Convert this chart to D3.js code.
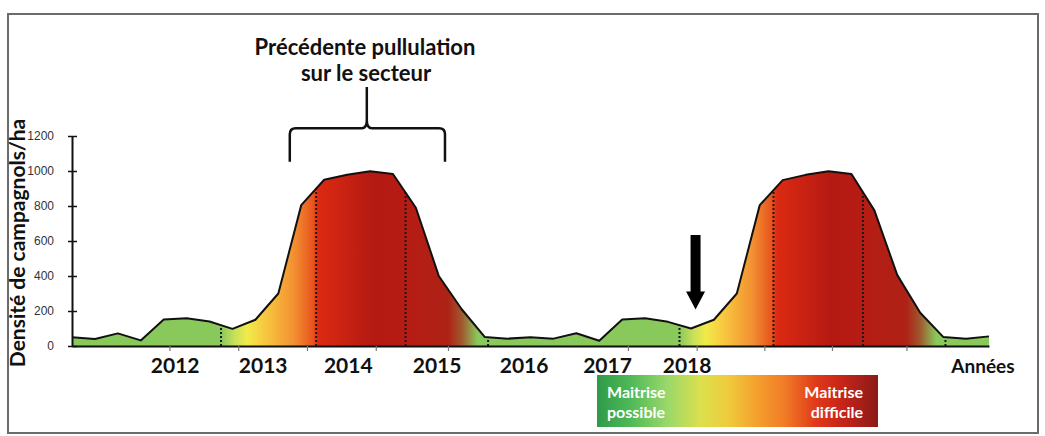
<!DOCTYPE html>
<html>
<head>
<meta charset="utf-8">
<script src="https://cdn.jsdelivr.net/npm/d3@7"></script>
<style>
  body { margin: 0; background: #fff; }
  svg { display: block; }
</style>
</head>
<body>
<svg width="1045" height="436"></svg>
<script>
// density of voles per hectare, one value per step (41 steps)
var densite = [50, 40, 72, 32, 152, 158, 140, 98, 150, 300, 805, 950, 978, 998, 983, 790, 400, 210, 52, 42,
               50, 42, 73, 30, 152, 158, 138, 100, 150, 300, 805, 948, 978, 998, 983, 775, 405, 190, 52, 42, 55];
var yTicks = [0, 200, 400, 600, 800, 1000, 1200];
var xTicks = [4.25, 7.25, 10.25, 13.25, 16.4, 24.25, 27.25, 30.2, 33.15, 36.4];
var annees = ["2012", "2013", "2014", "2015", "2016", "2017", "2018"];
var anneesPos = [4.5, 8.34, 12.05, 15.93, 19.72, 23.36, 26.83];
var seuils = [6.5, 10.65, 14.55, 18.15, 26.5, 30.6, 34.5, 38.1];

var width, height;
var svg, x, y, g;
var vert = "#89c95c";

svg = d3.select("svg");
width = +svg.attr("width");
height = +svg.attr("height");

x = d3.scaleLinear().domain([0, densite.length - 1]).range([72, 989]);
y = d3.scaleLinear().domain([0, 1200]).range([346, 136]);

// frame
svg.append("rect")
    .attr("x", 8).attr("y", 14)
    .attr("width", 1030).attr("height", 419)
    .attr("fill", "none")
    .attr("stroke", "#6b6b6b")
    .attr("stroke-width", 2);

// fill gradient following the pullulation cycles
var zone = [[0, vert], [6.5, vert], [7.1, "#c8e05a"], [7.65, "#f2ea4a"], [8.55, "#f8c23e"], [9.65, "#f29232"],
            [10.5, "#e8561e"], [10.75, "#dc2a12"], [13.1, "#b41a12"], [14.5, "#b61c14"], [16.4, "#ae2216"],
            [17.0, "#a0582e"], [17.7, vert]];
var stops = [];
zone.forEach(function(s) { stops.push(s); });
zone.forEach(function(s) { stops.push([s[0] + 20, s[1]]); });
stops.push([40, vert]);

var defs = svg.append("defs");
var grad = defs.append("linearGradient")
    .attr("id", "fillGrad")
    .attr("gradientUnits", "userSpaceOnUse")
    .attr("x1", x(0)).attr("x2", x(40)).attr("y1", 0).attr("y2", 0);
grad.selectAll("stop").data(stops).enter().append("stop")
    .attr("offset", function(d) { return d[0] / 40; })
    .attr("stop-color", function(d) { return d[1]; });

var legGrad = defs.append("linearGradient").attr("id", "legGrad");
[[0, "#2e9a4a"], [0.12, "#4fb957"], [0.25, "#9ad86a"], [0.37, "#dce04c"], [0.47, "#efca3c"], [0.57, "#f5a02e"],
 [0.67, "#f17a26"], [0.78, "#e0381a"], [0.88, "#c32418"], [1, "#8a1a18"]].forEach(function(s) {
    legGrad.append("stop").attr("offset", s[0]).attr("stop-color", s[1]);
});

g = svg.append("g");

var area = d3.area()
    .x(function(d, i) { return x(i); })
    .y0(y(0))
    .y1(function(d) { return y(d); });
var line = d3.line()
    .x(function(d, i) { return x(i); })
    .y(function(d) { return y(d); });

g.append("path")
    .datum(densite)
    .attr("d", area)
    .attr("fill", "url(#fillGrad)");

// dotted separators
function valueAt(t) {
    var i = Math.floor(t), f = t - i;
    return densite[i] + (densite[Math.min(i + 1, densite.length - 1)] - densite[i]) * f;
}
g.selectAll(".seuil")
    .data(seuils)
    .enter().append("line")
        .attr("class", "seuil")
        .attr("x1", function(d) { return x(d); })
        .attr("x2", function(d) { return x(d); })
        .attr("y1", y(0))
        .attr("y2", function(d) { return y(valueAt(d)); })
        .attr("stroke", "#1a1a1a")
        .attr("stroke-width", 2)
        .attr("stroke-dasharray", "2,2");

g.append("path")
    .datum(densite)
    .attr("d", line)
    .attr("fill", "none")
    .attr("stroke", "#111")
    .attr("stroke-width", 2)
    .attr("stroke-linejoin", "round");

// x axis
var xAxis = g.append("g")
    .attr("transform", "translate(0," + y(0) + ")")
    .call(d3.axisBottom(x).tickValues(xTicks).tickSize(5).tickSizeOuter(0).tickFormat(""));
xAxis.select(".domain").attr("stroke", "#111").attr("stroke-width", 2);
xAxis.selectAll(".tick line").attr("stroke", "#777").attr("stroke-width", 1.2);

g.selectAll(".annee")
    .data(annees)
    .enter().append("text")
        .attr("class", "annee")
        .attr("x", function(d, i) { return x(anneesPos[i]); })
        .attr("y", 373)
        .attr("text-anchor", "middle")
        .style("font", "bold 21px Lato, sans-serif")
        .attr("fill", "#111")
        .text(function(d) { return d; });

g.append("text")
    .attr("x", 983).attr("y", 373)
    .attr("text-anchor", "middle")
    .style("font", "bold 19px Lato, sans-serif")
    .attr("fill", "#111")
    .text("Années");

// y axis
var yAxis = g.append("g")
    .attr("transform", "translate(" + x(0) + ",0)")
    .call(d3.axisLeft(y).tickValues(yTicks).tickSize(0).tickSizeOuter(0).tickPadding(18).tickFormat(d3.format("d")));
yAxis.select(".domain").attr("stroke", "#111").attr("stroke-width", 2);
yAxis.selectAll(".tick text")
    .style("font", "12px 'Liberation Sans', Arial, sans-serif")
    .attr("fill", "#333");
yAxis.selectAll(".tick").append("line")
    .attr("x1", -4).attr("x2", 5)
    .attr("stroke", "#111").attr("stroke-width", 1.5);

svg.append("text")
    .attr("transform", "translate(25,243) rotate(-90)")
    .attr("text-anchor", "middle")
    .style("font", "bold 21px Lato, sans-serif")
    .attr("fill", "#111")
    .text("Densité de campagnols/ha");

// brace over the previous outbreak
var bl = x(9.5), br = x(16.27), bc = x(12.86);
var bBot = y(1053), bMid = y(1244), bTop = y(1480);
svg.append("path")
    .attr("d", "M" + bl + "," + bBot + " L" + bl + "," + (bMid + 6) +
        " Q" + bl + "," + bMid + " " + (bl + 6) + "," + bMid +
        " L" + (bc - 5) + "," + bMid + " Q" + bc + "," + bMid + " " + bc + "," + (bMid - 8) +
        " L" + bc + "," + bTop +
        " M" + bc + "," + (bMid - 8) + " Q" + bc + "," + bMid + " " + (bc + 5) + "," + bMid +
        " L" + (br - 6) + "," + bMid + " Q" + br + "," + bMid + " " + br + "," + (bMid + 6) +
        " L" + br + "," + bBot)
    .attr("fill", "none")
    .attr("stroke", "#111")
    .attr("stroke-width", 2.5);

svg.append("text")
    .attr("x", 365).attr("y", 55)
    .attr("text-anchor", "middle")
    .style("font", "bold 22px Lato, sans-serif")
    .attr("fill", "#111")
    .text("Précédente pullulation");
svg.append("text")
    .attr("x", 366).attr("y", 81)
    .attr("text-anchor", "middle")
    .style("font", "bold 22px Lato, sans-serif")
    .attr("fill", "#111")
    .text("sur le secteur");

// arrow at 2018
var ax = x(27.2), aTop = y(634), aTip = y(208);
svg.append("path")
    .attr("d", "M" + (ax - 5) + "," + aTop + " L" + (ax + 5) + "," + aTop + " L" + (ax + 5) + "," + (aTip - 18) +
        " L" + (ax + 9.5) + "," + (aTip - 18) + " L" + ax + "," + aTip + " L" + (ax - 9.5) + "," + (aTip - 18) +
        " L" + (ax - 5) + "," + (aTip - 18) + "Z")
    .attr("fill", "#000");

// legend
var leg = svg.append("g").attr("transform", "translate(597,375)");
leg.append("rect").attr("width", 281).attr("height", 52).attr("fill", "url(#legGrad)");
leg.append("text").attr("x", 10).attr("y", 23).style("font", "bold 16px Lato, sans-serif").attr("fill", "#fff").text("Maitrise");
leg.append("text").attr("x", 10).attr("y", 43).style("font", "bold 16px Lato, sans-serif").attr("fill", "#fff").text("possible");
leg.append("text").attr("x", 266).attr("y", 23).attr("text-anchor", "end").style("font", "bold 16px Lato, sans-serif").attr("fill", "#fff").text("Maitrise");
leg.append("text").attr("x", 266).attr("y", 43).attr("text-anchor", "end").style("font", "bold 16px Lato, sans-serif").attr("fill", "#fff").text("difficile");
</script>
</body>
</html>
